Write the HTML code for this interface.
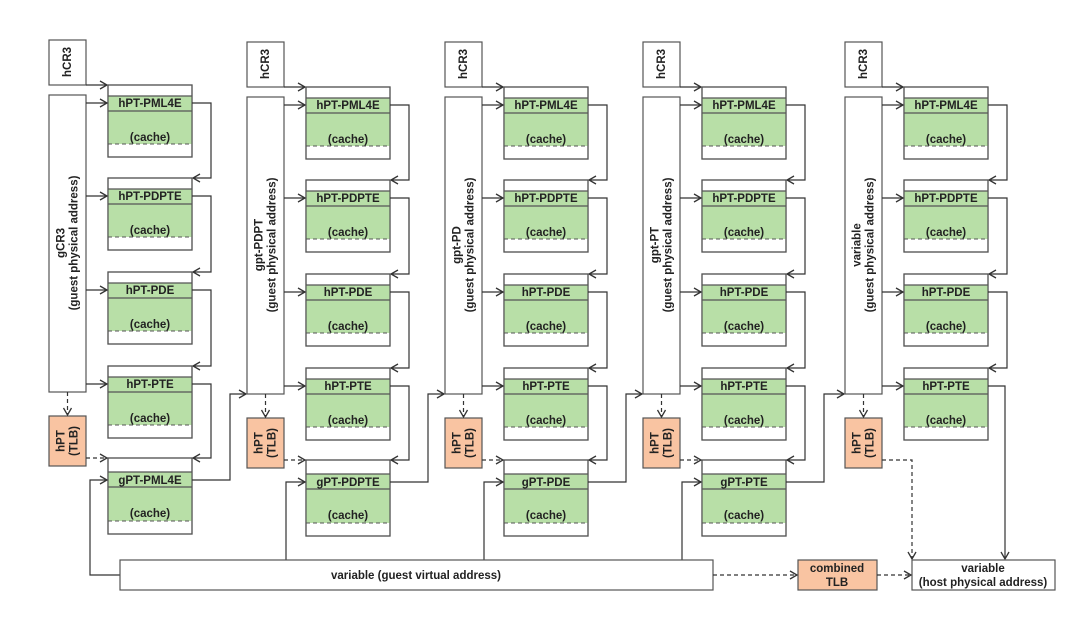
<!DOCTYPE html>
<html><head><meta charset="utf-8"><style>
html,body{margin:0;padding:0;background:#fff;}
svg{display:block;}
text{font-family:"Liberation Sans",sans-serif;font-weight:bold;font-size:11.5px;fill:#222;}
</style></head><body>
<svg width="1080" height="618" viewBox="0 0 1080 618" xmlns="http://www.w3.org/2000/svg">
<defs>
<marker id="a" markerWidth="10" markerHeight="10" refX="8" refY="5" orient="auto" markerUnits="userSpaceOnUse">
<path d="M1,1 L8,5 L1,9" fill="none" stroke="#333" stroke-width="1.3"/></marker>
<g id="cache">
<rect x="0" y="0" width="84" height="72" fill="#fff" stroke="#555" stroke-width="1.2"/>
<rect x="0" y="11" width="84" height="48" fill="#b8dfa7"/>
<line x1="0" y1="11" x2="84" y2="11" stroke="#555" stroke-width="1.2"/>
<line x1="0" y1="26" x2="84" y2="26" stroke="#555" stroke-width="1.2"/>
<line x1="0" y1="59" x2="84" y2="59" stroke="#555" stroke-width="1" stroke-dasharray="4,3"/>
<rect x="0" y="0" width="84" height="72" fill="none" stroke="#555" stroke-width="1.2"/>
<text x="42" y="56" text-anchor="middle">(cache)</text>
</g>
<g id="gcache">
<rect x="0" y="0" width="84" height="76" fill="#fff" stroke="#555" stroke-width="1.2"/>
<rect x="0" y="14" width="84" height="49" fill="#b8dfa7"/>
<line x1="0" y1="14" x2="84" y2="14" stroke="#555" stroke-width="1.2"/>
<line x1="0" y1="29" x2="84" y2="29" stroke="#555" stroke-width="1.2"/>
<line x1="0" y1="63" x2="84" y2="63" stroke="#555" stroke-width="1" stroke-dasharray="4,3"/>
<rect x="0" y="0" width="84" height="76" fill="none" stroke="#555" stroke-width="1.2"/>
<text x="42" y="59" text-anchor="middle">(cache)</text>
</g>
</defs>
<script>
(function(){
var ns="http://www.w3.org/2000/svg";
var svg=document.querySelector('svg');
function el(t,a,txt){var e=document.createElementNS(ns,t);for(var k in a)e.setAttribute(k,a[k]);if(txt!==undefined)e.textContent=txt;svg.appendChild(e);return e;}
function line(pts,dash,arrow){el('polyline',{points:pts,fill:'none',stroke:'#333','stroke-width':1.2,'stroke-dasharray':dash?'4,3':'none','marker-end':arrow?'url(#a)':''});}
var offs=[[0,0],[198,2],[396,2],[594,2],[796,2]];
var names=['gCR3','gpt-PDPT','gpt-PD','gpt-PT','variable'];
var gn=['gPT-PML4E','gPT-PDPTE','gPT-PDE','gPT-PTE'];
var hn=['hPT-PML4E','hPT-PDPTE','hPT-PDE','hPT-PTE'];
var tops=[85,178,272,366];
offs.forEach(function(o,i){
 var dx=o[0],dy=o[1];
 el('rect',{x:49+dx,y:40+dy,width:37,height:45,fill:'#fff',stroke:'#555','stroke-width':1.2});
 el('text',{x:0,y:0,'text-anchor':'middle',transform:'translate('+(71+dx)+','+(62+dy)+') rotate(-90)'},'hCR3');
 el('rect',{x:49+dx,y:95+dy,width:37,height:297,fill:'#fff',stroke:'#555','stroke-width':1.2});
 var cx=67.5+dx, cy=243+dy;
 el('text',{x:0,y:-3,'text-anchor':'middle',transform:'translate('+cx+','+cy+') rotate(-90)'},names[i]);
 el('text',{x:0,y:10,'text-anchor':'middle',transform:'translate('+cx+','+cy+') rotate(-90)'},'(guest physical address)');
 el('rect',{x:49+dx,y:416+dy,width:37,height:50,fill:'#f9c4a2',stroke:'#555','stroke-width':1.2});
 el('text',{x:0,y:-3,'text-anchor':'middle',transform:'translate('+cx+','+(441+dy)+') rotate(-90)'},'hPT');
 el('text',{x:0,y:10,'text-anchor':'middle',transform:'translate('+cx+','+(441+dy)+') rotate(-90)'},'(TLB)');
 line((67.5+dx)+','+(392+dy)+' '+(67.5+dx)+','+(415+dy),true,true);
 line((86+dx)+','+(85+dy)+' '+(107+dx)+','+(85+dy),false,true);
 var bx=108+dx;
 tops.forEach(function(t,j){
  var ty=t+dy;
  el('use',{href:'#cache',x:bx,y:ty});
  el('text',{x:bx+42,y:ty+22,'text-anchor':'middle'},hn[j]);
  line((86+dx)+','+(ty+18)+' '+(bx-1)+','+(ty+18),false,true);
  if(j<3){ line((bx+84)+','+(ty+18)+' '+(bx+103)+','+(ty+18)+' '+(bx+103)+','+(tops[j+1]+dy)+' '+(bx+85)+','+(tops[j+1]+dy),false,true);}
 });
 if(i<4){
  var gy=458+dy;
  el('use',{href:'#gcache',x:bx,y:gy});
  el('text',{x:bx+42,y:gy+26,'text-anchor':'middle'},gn[i]);
  var pty=tops[3]+dy;
  line((bx+84)+','+(pty+18)+' '+(bx+103)+','+(pty+18)+' '+(bx+103)+','+gy+' '+(bx+85)+','+gy,false,true);
  line((86+dx)+','+(458+dy)+' '+(bx-1)+','+(458+dy),true,true);
  var nd=offs[i+1];
  line((bx+84)+','+(gy+22)+' '+(bx+122)+','+(gy+22)+' '+(bx+122)+','+(392+nd[1])+' '+(48+nd[0])+','+(392+nd[1]),false,true);
  if(i==0){ line('120,575 90,575 90,'+(gy+22)+' '+(bx-1)+','+(gy+22),false,true);}
  else { line((bx-20)+',560 '+(bx-20)+','+(gy+22)+' '+(bx-1)+','+(gy+22),false,true);}
 } else {
  var pty=tops[3]+dy;
  line((bx+84)+','+(pty+18)+' 1005,'+(pty+18)+' 1005,559',false,true);
  line('882,'+(458+dy)+' 912,'+(458+dy)+' 912,559',true,true);
 }
});
el('rect',{x:120,y:560,width:593,height:30,fill:'#fff',stroke:'#555','stroke-width':1.2});
el('text',{x:416,y:579,'text-anchor':'middle'},'variable (guest virtual address)');
el('rect',{x:798,y:560,width:79,height:30,fill:'#f9c4a2',stroke:'#555','stroke-width':1.2});
el('text',{x:837,y:572,'text-anchor':'middle'},'combined');
el('text',{x:837,y:586,'text-anchor':'middle'},'TLB');
el('rect',{x:912,y:560,width:143,height:30,fill:'#fff',stroke:'#555','stroke-width':1.2});
el('text',{x:983,y:572,'text-anchor':'middle'},'variable');
el('text',{x:983,y:586,'text-anchor':'middle'},'(host physical address)');
line('713,575 797,575',true,true);
line('877,575 911,575',true,true);
})();
</script>
</svg>
</body></html>
